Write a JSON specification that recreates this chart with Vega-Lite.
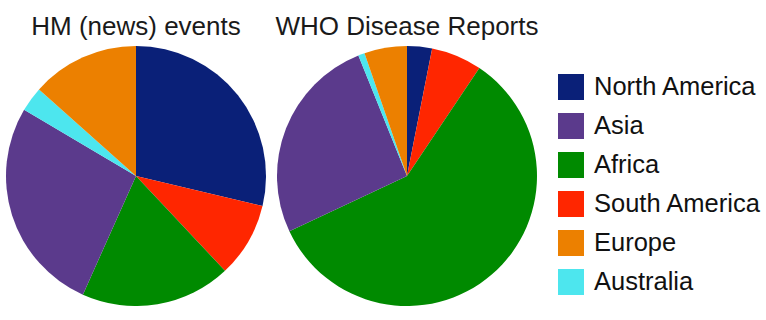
{
  "$schema": "https://vega.github.io/schema/vega-lite/v6.json",
  "padding": {"left": 6, "top": 14, "right": 0, "bottom": 0},
  "background": "white",
  "data": {"values": [
    {"chart": "HM (news) events", "region": "North America", "value": 28.7, "ord": 1},
    {"chart": "HM (news) events", "region": "South America", "value": 9.3, "ord": 2},
    {"chart": "HM (news) events", "region": "Africa", "value": 18.7, "ord": 3},
    {"chart": "HM (news) events", "region": "Asia", "value": 26.8, "ord": 4},
    {"chart": "HM (news) events", "region": "Australia", "value": 3.1, "ord": 5},
    {"chart": "HM (news) events", "region": "Europe", "value": 13.4, "ord": 6},
    {"chart": "WHO Disease Reports", "region": "North America", "value": 3.1, "ord": 1},
    {"chart": "WHO Disease Reports", "region": "South America", "value": 6.3, "ord": 2},
    {"chart": "WHO Disease Reports", "region": "Africa", "value": 58.6, "ord": 3},
    {"chart": "WHO Disease Reports", "region": "Asia", "value": 25.9, "ord": 4},
    {"chart": "WHO Disease Reports", "region": "Australia", "value": 0.8, "ord": 5},
    {"chart": "WHO Disease Reports", "region": "Europe", "value": 5.3, "ord": 6}
  ]},
  "facet": {
    "column": {
      "field": "chart",
      "type": "nominal",
      "sort": ["HM (news) events", "WHO Disease Reports"],
      "header": {
        "title": null,
        "labelFontSize": 26,
        "labelFont": "Liberation Sans",
        "labelColor": "#1a1a1a",
        "labelPadding": 6
      }
    }
  },
  "spacing": 11,
  "resolve": {"scale": {"theta": "independent"}},
  "spec": {
    "width": 260,
    "height": 260,
    "mark": {"type": "arc", "strokeWidth": 0},
    "encoding": {
      "theta": {"field": "value", "type": "quantitative", "stack": true},
      "order": {"field": "ord", "type": "quantitative"},
      "color": {
        "field": "region",
        "type": "nominal",
        "scale": {
          "domain": ["North America", "Asia", "Africa", "South America", "Europe", "Australia"],
          "range": ["#0A2078", "#5B3A8C", "#008A00", "#FF2600", "#EC8000", "#4DE6EE"]
        },
        "legend": {
          "title": null,
          "orient": "none",
          "legendX": 552,
          "legendY": 28,
          "symbolType": "square",
          "symbolSize": 676,
          "symbolStrokeWidth": 0,
          "symbolOpacity": 1,
          "labelFontSize": 25.5,
          "labelFont": "Liberation Sans",
          "labelColor": "#111111",
          "labelOffset": 10,
          "rowPadding": 12,
          "labelLimit": 300,
          "padding": 0
        }
      }
    }
  },
  "config": {"view": {"stroke": null}}
}
